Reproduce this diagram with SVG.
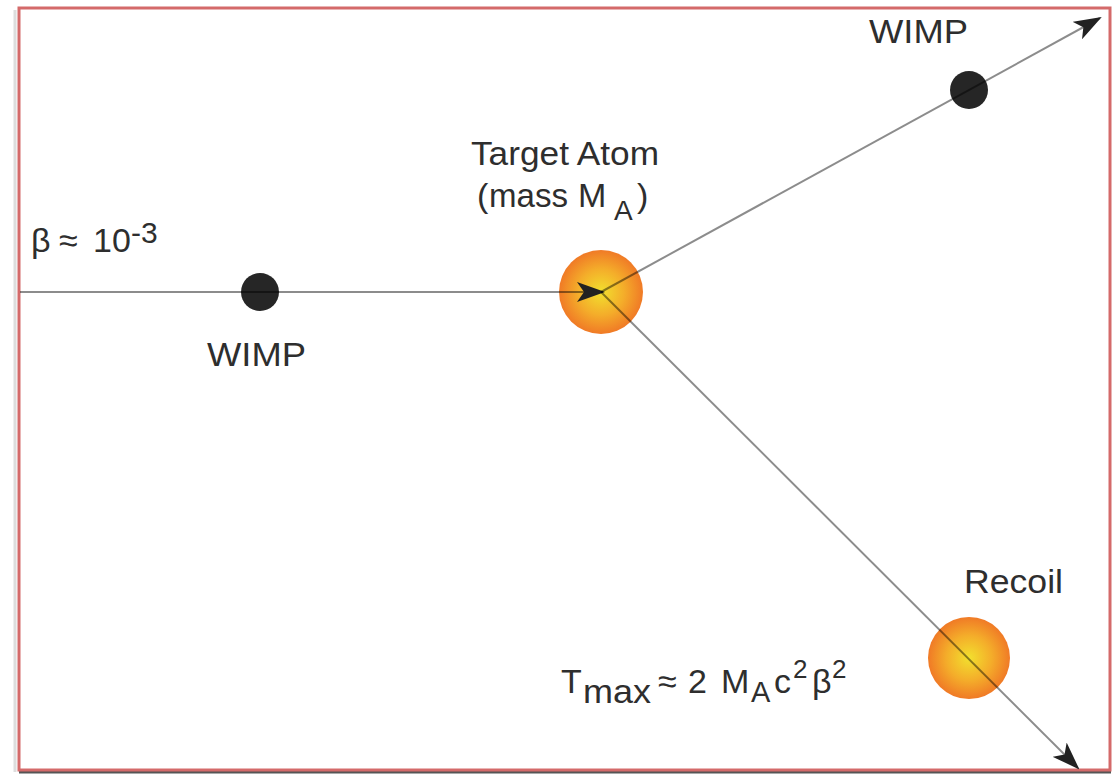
<svg xmlns="http://www.w3.org/2000/svg" width="1113" height="774" viewBox="0 0 1113 774">
  <style>
    .lbl { font-family: "Liberation Sans", Arial, sans-serif; font-size: 34px; fill: #2e2e2e; }
    .track { stroke: #000; stroke-opacity: 0.45; stroke-width: 2; fill: none; }
    .wimp { fill: #262626; }
    .atom { fill: url(#atomGrad); }
  </style>
  <defs>
    <radialGradient id="atomGrad" cx="0.5" cy="0.5" r="0.5">
      <stop offset="0" stop-color="#f2e02e"/>
      <stop offset="0.55" stop-color="#f4ad2a"/>
      <stop offset="1" stop-color="#f07a26"/>
    </radialGradient>
    <marker id="arrow" viewBox="0 0 28 20" refX="26" refY="10" markerWidth="28" markerHeight="20" markerUnits="userSpaceOnUse" orient="auto">
      <path d="M0,0 L28,10 L0,20 L7,10 Z" fill="#222"/>
    </marker>
  </defs>

  <!-- frame -->
  <rect x="0" y="0" width="1113" height="774" fill="#fff"/>
  <line x1="15" y1="10" x2="15" y2="772" stroke="#ddd" stroke-width="3"/>
  <line x1="19" y1="772" x2="1111" y2="772" stroke="#555" stroke-width="3"/>
  <rect x="19" y="8" width="1091" height="762" fill="none" stroke="#d46a6a" stroke-width="3"/>

  <!-- particles -->
  <g id="target-atom">
    <circle class="atom" cx="601" cy="292" r="42"/>
    <text class="lbl" x="471" y="165" textLength="188" lengthAdjust="spacingAndGlyphs">Target Atom</text>
    <text class="lbl" y="207"><tspan x="477">(</tspan><tspan x="489" textLength="79" lengthAdjust="spacingAndGlyphs">mass</tspan><tspan x="578">M</tspan><tspan x="614" y="220" font-size="28">A</tspan><tspan x="637" y="207">)</tspan></text>
  </g>
  <g id="recoil">
    <circle class="atom" cx="969" cy="658" r="41"/>
    <text class="lbl" x="964" y="593" textLength="99" lengthAdjust="spacingAndGlyphs">Recoil</text>
  </g>
  <g id="wimp-incoming">
    <circle class="wimp" cx="260" cy="292" r="19"/>
    <text class="lbl" x="207" y="366" textLength="99" lengthAdjust="spacingAndGlyphs">WIMP</text>
  </g>
  <g id="wimp-scattered">
    <circle class="wimp" cx="969" cy="90" r="19"/>
    <text class="lbl" x="869" y="43" textLength="99" lengthAdjust="spacingAndGlyphs">WIMP</text>
  </g>
  <g id="velocity">
    <text class="lbl" y="252"><tspan x="31">β</tspan><tspan x="59">≈</tspan><tspan x="93">10</tspan><tspan x="131" y="243" font-size="30">-3</tspan></text>
  </g>
  <g id="energy">
    <text class="lbl" y="693"><tspan x="561">T</tspan><tspan x="583" y="703" font-size="34" textLength="68" lengthAdjust="spacingAndGlyphs">max</tspan><tspan x="658" y="693">≈</tspan><tspan x="688">2</tspan><tspan x="721">M</tspan><tspan x="751" y="702" font-size="29">A</tspan><tspan x="774" y="693">c</tspan><tspan x="793" y="678" font-size="26">2</tspan><tspan x="812" y="693">β</tspan><tspan x="832" y="678" font-size="26">2</tspan></text>
  </g>

  <!-- tracks -->
  <g id="connectors">
    <line class="track" x1="20" y1="292" x2="603" y2="292" marker-end="url(#arrow)"/>
    <line class="track" x1="601" y1="292" x2="1100" y2="18" marker-end="url(#arrow)"/>
    <line class="track" x1="601" y1="292" x2="1078" y2="768" marker-end="url(#arrow)"/>
  </g>
</svg>
